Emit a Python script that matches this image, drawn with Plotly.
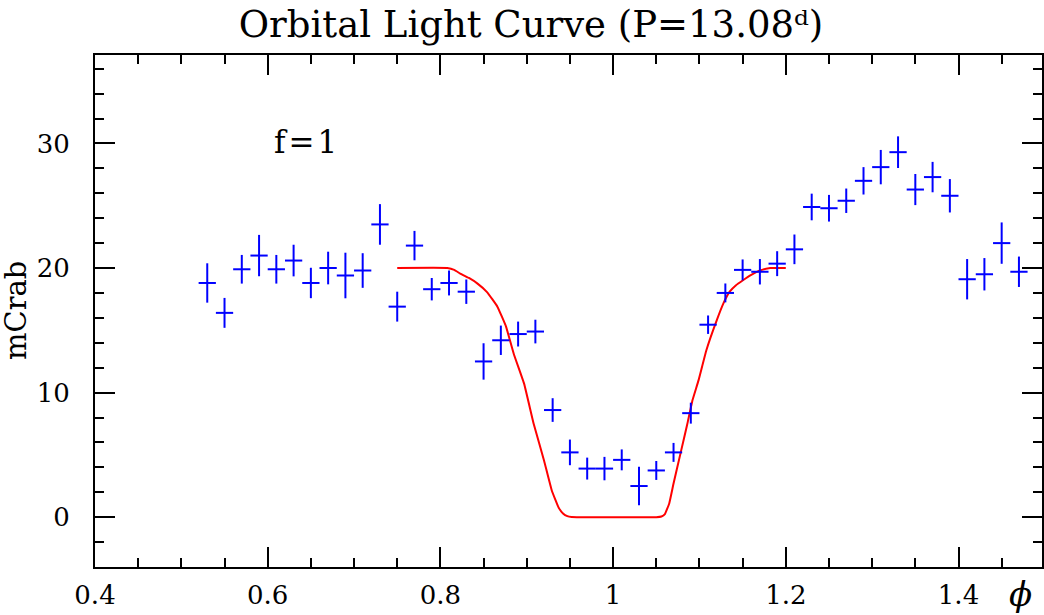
import plotly.graph_objects as go

# ---- data ----
phase = [0.53, 0.55, 0.57, 0.59, 0.61, 0.63, 0.65, 0.67, 0.69, 0.71,
         0.73, 0.75, 0.77, 0.79, 0.81, 0.83, 0.85, 0.87, 0.89, 0.91,
         0.93, 0.95, 0.97, 0.99, 1.01, 1.03, 1.05, 1.07, 1.09, 1.11,
         1.13, 1.15, 1.17, 1.19, 1.21, 1.23, 1.25, 1.27, 1.29, 1.31,
         1.33, 1.35, 1.37, 1.39, 1.41, 1.43, 1.45, 1.47]
flux = [18.8, 16.4, 19.9, 21.0, 19.9, 20.6, 18.8, 20.0, 19.4, 19.8,
        23.5, 16.9, 21.8, 18.3, 18.8, 18.1, 12.5, 14.2, 14.7, 14.9,
        8.6, 5.2, 3.9, 3.9, 4.6, 2.5, 3.75, 5.2, 8.35, 15.45,
        18.0, 19.85, 19.7, 20.35, 21.5, 24.9, 24.8, 25.4, 27.0, 28.1,
        29.3, 26.3, 27.3, 25.8, 19.1, 19.5, 22.0, 19.7]
flux_err = [1.58, 1.2, 1.15, 1.66, 1.15, 1.27, 1.22, 1.31, 1.83, 1.39,
            1.63, 1.2, 1.18, 0.9, 1.0, 0.98, 1.46, 1.18, 1.0, 0.95,
            0.95, 1.03, 0.88, 0.94, 0.84, 1.55, 0.76, 0.76, 0.84, 0.74,
            0.76, 0.84, 1.02, 1.0, 1.19, 1.07, 1.07, 0.98, 1.1, 1.38,
            1.27, 1.25, 1.22, 1.34, 1.62, 1.3, 1.66, 1.22]
phase_halfwidth = 0.01

model_phase = [0.75, 0.808, 0.816, 0.823, 0.833, 0.843, 0.854, 0.866, 0.876, 0.885,
               0.897, 0.908, 0.920, 0.929, 0.937, 0.942, 0.947, 0.952, 0.958, 1.050,
               1.056, 1.060, 1.065, 1.070, 1.078, 1.086, 1.092, 1.099, 1.108, 1.120,
               1.128, 1.135, 1.142, 1.150, 1.160, 1.170, 1.182, 1.200]
model_flux = [20, 20, 19.85, 19.55, 19.2, 18.75, 18.07, 16.9, 15.3, 13.1,
              10.7, 7.5, 4.55, 2.14, 0.75, 0.3, 0.08, 0.01, 0, 0,
              0.05, 0.25, 1.1, 2.7, 5.1, 7.5, 9.4, 11.0, 13.4, 15.8,
              17.2, 18.1, 18.6, 19.0, 19.45, 19.8, 20.0, 20.0]

x_major = [0.4, 0.6, 0.8, 1.0, 1.2, 1.4]
x_labels = ["0.4", "0.6", "0.8", "1", "1.2", "1.4"]
y_major = [0, 10, 20, 30]
y_labels = ["0", "10", "20", "30"]

title_text = "Orbital Light Curve (P=13.08\u1d48)"
ylabel = "mCrab"
xlabel = "ϕ"
note = "f\u200a=\u200a1"

SERIF = "DejaVu Serif, Liberation Serif, serif"

fig = go.Figure()
fig.add_trace(go.Scatter(
    x=model_phase, y=model_flux, mode="lines",
    line=dict(color="red", width=2, shape="spline", smoothing=0.3),
    hoverinfo="skip", showlegend=False))
fig.add_trace(go.Scatter(
    x=phase, y=flux, mode="markers",
    marker=dict(size=1, color="blue", opacity=0),
    error_y=dict(type="data", array=flux_err, color="blue", thickness=2, width=0),
    error_x=dict(type="constant", value=phase_halfwidth, color="blue", thickness=2, width=0),
    showlegend=False))

axis_common = dict(
    showline=True, linecolor="black", linewidth=2, mirror="ticks",
    ticks="inside", ticklen=20, tickwidth=1.5, tickcolor="black",
    showgrid=False, zeroline=False, automargin=False,
    tickfont=dict(family=SERIF, size=26, color="black"),
)
fig.update_xaxes(range=[0.4, 1.4967], tickvals=x_major, ticktext=x_labels,
                 minor=dict(dtick=0.05, tick0=0.4, ticks="inside", ticklen=9,
                            tickwidth=1.5, tickcolor="black", showgrid=False),
                 ticklabelstandoff=4, **axis_common)
fig.update_yaxes(range=[-4, 37.1], tickvals=y_major, ticktext=y_labels,
                 minor=dict(dtick=2, tick0=0, ticks="inside", ticklen=9,
                            tickwidth=1.5, tickcolor="black", showgrid=False),
                 ticklabelstandoff=18, **axis_common)

fig.update_layout(
    width=1044, height=615,
    margin=dict(l=95, r=2, t=55, b=48, pad=0, autoexpand=False),
    plot_bgcolor="white", paper_bgcolor="white",
    title=dict(text=title_text, x=531 / 1044, xref="container", xanchor="center",
               y=1 - 24 / 615, yref="container", yanchor="middle",
               font=dict(family=SERIF, size=37, color="black")),
    annotations=[
        dict(text=ylabel, xref="paper", yref="paper", x=(16 - 95) / 947, y=0.5,
             textangle=-90, showarrow=False, xanchor="center", yanchor="middle",
             font=dict(family=SERIF, size=29, color="black")),
        dict(text=xlabel, xref="paper", yref="paper", x=(1020 - 95) / 947, y=(567 - 594) / 512,
             showarrow=False, xanchor="center", yanchor="middle",
             font=dict(family=SERIF, size=34, color="black", style="italic")),
        dict(text=note, xref="x", yref="y", x=0.644, y=30.1,
             showarrow=False, xanchor="center", yanchor="middle",
             font=dict(family=SERIF, size=31, color="black")),
    ],
)

fig.write_html("out.html")
